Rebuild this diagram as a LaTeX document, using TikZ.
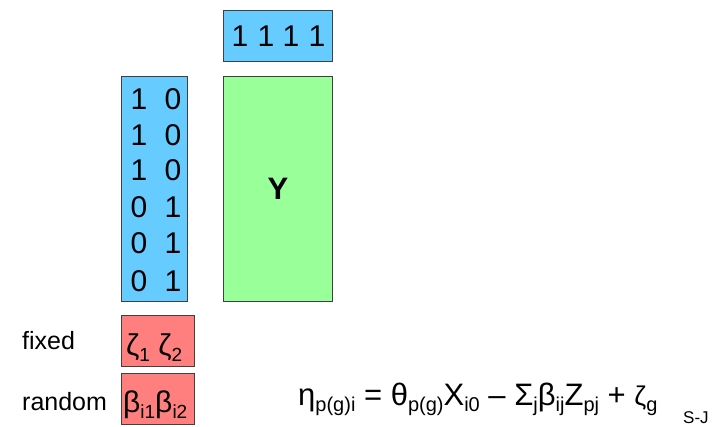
\documentclass[tikz,border=0pt]{standalone}
\usepackage{fontspec}
\setmainfont{Liberation Sans}
\newcommand\lo[1]{\raisebox{-0.22em}{\fontsize{19}{22}\selectfont #1}}
\newcommand\loeq[1]{\raisebox{-0.2em}{\fontsize{20}{24}\selectfont #1}}
\definecolor{cblue}{HTML}{66CCFF}
\definecolor{cgreen}{HTML}{99FF99}
\definecolor{cred}{HTML}{FF7F7F}
\begin{document}
\begin{tikzpicture}[x=1pt,y=-1pt,
  boxb/.style={draw=black!75, line width=1pt, inner sep=0pt, anchor=north west},
  big/.style={font=\fontsize{30}{34}\selectfont, inner sep=0pt},
  lbl/.style={font=\fontsize{25}{28}\selectfont, inner sep=0pt, anchor=base west}]
\useasboundingbox (0,0) rectangle (727,426);
% boxes
\node[boxb, fill=cblue, minimum width=109, minimum height=51] (top) at (223,10) {};
\node[boxb, fill=cblue, minimum width=66, minimum height=225] (col) at (121,76) {};
\node[boxb, fill=cgreen, minimum width=109, minimum height=225] (Y) at (223,76) {};
\node[boxb, fill=cred, minimum width=73, minimum height=51] (fx) at (121,315) {};
\node[boxb, fill=cred, minimum width=73, minimum height=51] (rd) at (121,373) {};
% top row
\foreach \x [count=\i] in {240,266,291,317}
  \node[big] (t\i) at (\x,36) {1};
% column digits
\foreach \y/\a/\b [count=\i] in {99/1/0,135/1/0,170/1/0,207/0/1,243/0/1,281/0/1}{
  \node[big] (ca\i) at (139,\y) {\a};
  \node[big] (cb\i) at (173,\y) {\b};
}
\node[font=\fontsize{31}{34}\selectfont\bfseries, inner sep=0pt] (ylab) at (Y.center) {Y};
% red boxes contents
\node[big, anchor=base west] (z) at (126,355) {ζ\lo{1} ζ\lo{2}};
\node[big, anchor=base west] (b) at (123,412) {β\lo{i1}β\lo{i2}};
% labels
\node[lbl] (fixed) at (22,349) {fixed};
\node[lbl] (random) at (22,410) {random};
% equation
\node[font=\fontsize{31}{34}\selectfont, inner sep=0pt, anchor=base west] (eq) at (298,405)
  {η\loeq{p(g)i} = θ\loeq{p(g)}X\loeq{i0} – Σ\loeq{j}β\loeq{ij}Z\loeq{pj} + {\fontsize{27}{30}\selectfont ζ}\loeq{g}};
\node[font=\fontsize{17}{19}\selectfont, inner sep=0pt, anchor=base west] (sj) at (683,423) {S-J};
\end{tikzpicture}
\end{document}
